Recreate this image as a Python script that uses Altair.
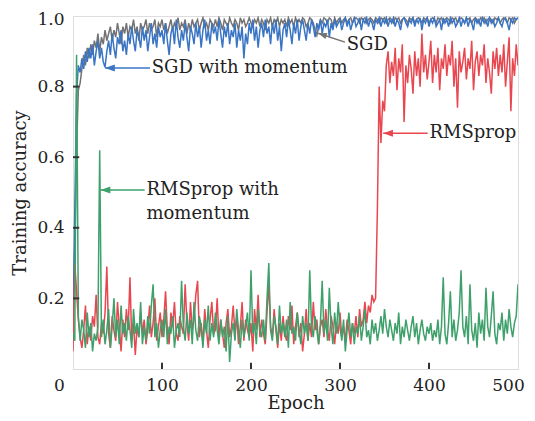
import altair as alt
import pandas as pd

epochs = list(range(0, 501, 2))

sgd = [0.12, 0.35, 0.62, 0.79, 0.81, 0.85, 0.89, 0.86, 0.91, 0.88,
       0.92, 0.89, 0.93, 0.91, 0.95, 0.90, 0.94, 0.92, 0.96, 0.93,
       0.95, 0.97, 0.93, 0.96, 0.94, 0.98, 0.95, 0.92, 0.97, 0.95,
       0.98, 0.94, 0.97, 0.96, 0.99, 0.95, 0.97, 0.93, 0.98, 0.96,
       0.97, 0.99, 0.95, 0.98, 0.96, 0.97, 0.99, 0.94, 0.98, 0.97,
       0.99, 0.96, 0.98, 0.95, 0.97, 0.99, 0.96, 0.98, 0.97, 0.995,
       0.96, 0.98, 0.97, 0.99, 0.95, 0.98, 0.96, 0.99, 0.97, 0.98,
       0.99, 0.96, 0.98, 0.995, 0.97, 0.98, 0.96, 0.99, 0.98, 0.97,
       0.99, 0.97, 0.995, 0.98, 0.96, 0.99, 0.98, 0.97, 0.995, 0.98,
       0.97, 0.99, 0.98, 0.96, 0.995, 0.98, 0.99, 0.97, 0.98, 0.995,
       0.98, 0.97, 0.99, 0.98, 0.995, 0.97, 0.99, 0.98, 0.96, 0.99,
       0.98, 0.995, 0.97, 0.99, 0.98, 0.995, 0.97, 0.99, 0.98, 0.99,
       0.97, 0.995, 0.98, 0.99, 0.97, 0.995, 0.98, 0.99, 0.98, 0.995,
       0.99, 0.97, 0.98, 0.995, 0.99, 0.98, 0.96, 0.945, 0.97, 0.99,
       0.98, 0.995, 0.99, 0.98, 0.995, 0.99, 0.97, 0.995, 0.98, 0.99,
       0.995, 0.98, 0.99, 0.995, 0.98, 0.99, 0.995, 0.98, 0.99, 0.995,
       0.99, 0.98, 0.995, 0.99, 0.995, 0.98, 0.99, 0.995, 0.99, 0.98,
       0.995, 0.99, 0.98, 0.995, 0.99, 0.995, 0.98, 0.99, 0.995, 0.99,
       0.98, 0.995, 0.99, 0.995, 0.98, 0.99, 0.995, 0.99, 0.98, 0.995,
       0.99, 0.995, 0.98, 0.99, 0.995, 0.99, 0.98, 0.995, 0.99, 0.995,
       0.98, 0.99, 0.995, 0.99, 0.98, 0.995, 0.99, 0.995, 0.98, 0.99,
       0.995, 0.99, 0.98, 0.995, 0.99, 0.995, 0.98, 0.99, 0.995, 0.99,
       0.98, 0.995, 0.99, 0.995, 0.98, 0.99, 0.995, 0.99, 0.98, 0.995,
       0.99, 0.995, 0.98, 0.99, 0.995, 0.99, 0.98, 0.995, 0.99, 0.995,
       0.98, 0.99, 0.995, 0.99, 0.98, 0.995, 0.99, 0.995, 0.98, 0.99,
       0.995]

sgd_momentum = [0.10, 0.45, 0.78, 0.86, 0.84, 0.88, 0.85, 0.90, 0.87, 0.91,
                0.88, 0.92, 0.86, 0.90, 0.93, 0.88, 0.91, 0.87, 0.855, 0.90,
                0.93, 0.89, 0.95, 0.91, 0.88, 0.94, 0.92, 0.96, 0.90, 0.93,
                0.89, 0.95, 0.92, 0.97, 0.93, 0.90, 0.96, 0.94, 0.91, 0.97,
                0.93, 0.96, 0.90, 0.94, 0.98, 0.92, 0.95, 0.91, 0.97, 0.94,
                0.96, 0.92, 0.98, 0.93, 0.89, 0.95, 0.97, 0.92, 0.99, 0.94,
                0.91, 0.96, 0.93, 0.98, 0.94, 0.90, 0.97, 0.95, 0.92, 0.98,
                0.94, 0.97, 0.91, 0.96, 0.99, 0.93, 0.96, 0.92, 0.98, 0.95,
                0.97, 0.93, 0.99, 0.95, 0.91, 0.97, 0.94, 0.98, 0.92, 0.96,
                0.94, 0.98, 0.91, 0.96, 0.93, 0.97, 0.88, 0.95, 0.92, 0.98,
                0.95, 0.99, 0.93, 0.97, 0.91, 0.96, 0.98, 0.94, 0.99, 0.95,
                0.97, 0.92, 0.98, 0.95, 0.99, 0.93, 0.97, 0.90, 0.96, 0.98,
                0.94, 0.99, 0.96, 0.92, 0.98, 0.95, 0.99, 0.93, 0.97, 0.99,
                0.96, 0.93, 0.98, 0.95, 0.99, 0.97, 0.94, 0.98, 0.96, 0.99,
                0.95, 0.98, 0.97, 0.99, 0.94, 0.98, 0.96, 0.99, 0.97, 0.98,
                0.99, 0.96, 0.98, 0.995, 0.97, 0.99, 0.96, 0.98, 0.995, 0.97,
                0.98, 0.995, 0.96, 0.99, 0.98, 0.995, 0.97, 0.99, 0.98, 0.96,
                0.99, 0.98, 0.995, 0.97, 0.99, 0.98, 0.995, 0.97, 0.99, 0.98,
                0.995, 0.97, 0.99, 0.98, 0.96, 0.99, 0.995, 0.98, 0.97, 0.99,
                0.98, 0.995, 0.97, 0.99, 0.98, 0.995, 0.96, 0.99, 0.98, 0.995,
                0.97, 0.99, 0.98, 0.995, 0.97, 0.98, 0.99, 0.96, 0.995, 0.98,
                0.99, 0.97, 0.995, 0.98, 0.99, 0.97, 0.98, 0.995, 0.97, 0.99,
                0.98, 0.995, 0.97, 0.99, 0.98, 0.96, 0.995, 0.98, 0.99, 0.97,
                0.995, 0.98, 0.99, 0.97, 0.995, 0.98, 0.99, 0.97, 0.98, 0.995,
                0.98, 0.97, 0.99, 0.995, 0.98, 0.96, 0.99, 0.98, 0.995, 0.99,
                0.995]

rmsprop = [0.05, 0.30, 0.22, 0.14, 0.09, 0.06, 0.11, 0.18, 0.07, 0.12,
           0.08, 0.15, 0.12, 0.21, 0.09, 0.07, 0.13, 0.10, 0.16, 0.29,
           0.10, 0.06, 0.15, 0.11, 0.08, 0.19, 0.12, 0.05, 0.14, 0.09,
           0.17, 0.11, 0.26, 0.08, 0.13, 0.04, 0.12, 0.09, 0.16, 0.10,
           0.14, 0.07, 0.11, 0.18, 0.09, 0.13, 0.20, 0.08, 0.12, 0.16,
           0.09, 0.14, 0.22, 0.11, 0.07, 0.16, 0.12, 0.19, 0.10, 0.08,
           0.15, 0.12, 0.10, 0.24, 0.13, 0.08, 0.19, 0.11, 0.14, 0.21,
           0.25, 0.09, 0.13, 0.07, 0.17, 0.11, 0.06, 0.14, 0.19, 0.10,
           0.11, 0.20, 0.08, 0.14, 0.10, 0.06, 0.13, 0.17, 0.09, 0.12,
           0.18, 0.10, 0.15, 0.07, 0.12, 0.19, 0.08, 0.14, 0.11, 0.09,
           0.13, 0.05, 0.17, 0.11, 0.21, 0.09, 0.14, 0.10, 0.07, 0.16,
           0.24, 0.12, 0.09, 0.17, 0.11, 0.06, 0.13, 0.08, 0.15, 0.10,
           0.08, 0.15, 0.11, 0.18, 0.07, 0.12, 0.16, 0.09, 0.13, 0.05,
           0.10, 0.17, 0.08, 0.13, 0.09, 0.19, 0.11, 0.14, 0.07, 0.12,
           0.14, 0.09, 0.17, 0.11, 0.08, 0.15, 0.12, 0.07, 0.13, 0.10,
           0.16, 0.09, 0.12, 0.08, 0.14, 0.11, 0.07, 0.13, 0.10, 0.15,
           0.09, 0.17, 0.12, 0.14, 0.19, 0.13, 0.18, 0.16, 0.21, 0.19,
           0.20, 0.45, 0.80, 0.64, 0.76, 0.73, 0.86, 0.90, 0.81, 0.87,
           0.83, 0.91, 0.79, 0.88, 0.84, 0.92, 0.70, 0.86, 0.81, 0.89,
           0.85, 0.78, 0.90, 0.83, 0.88, 0.80, 0.95, 0.84, 0.89, 0.82,
           0.87, 0.93, 0.81, 0.89, 0.84, 0.91, 0.79, 0.88, 0.85, 0.92,
           0.83, 0.89, 0.86, 0.93, 0.80, 0.88, 0.74, 0.90, 0.84, 0.87,
           0.91, 0.82, 0.88, 0.85, 0.93, 0.79, 0.87, 0.90, 0.83, 0.89,
           0.86, 0.92, 0.81, 0.88, 0.84, 0.78, 0.90, 0.85, 0.91, 0.83,
           0.89, 0.84, 0.92, 0.80, 0.87, 0.94, 0.73, 0.88, 0.83, 0.92,
           0.86]

rmsprop_momentum = [0.10, 0.08, 0.89, 0.15, 0.08, 0.14, 0.11, 0.06, 0.16, 0.09,
                    0.13, 0.05, 0.10, 0.08, 0.12, 0.62, 0.09, 0.14, 0.07, 0.11,
                    0.17, 0.06, 0.12, 0.20, 0.09, 0.14, 0.07, 0.18, 0.10, 0.13,
                    0.08, 0.15, 0.11, 0.06, 0.17, 0.10, 0.13, 0.09, 0.19, 0.07,
                    0.12, 0.08, 0.15, 0.10, 0.18, 0.24, 0.09, 0.13, 0.06, 0.11,
                    0.14, 0.09, 0.17, 0.07, 0.12, 0.10, 0.15, 0.06, 0.11, 0.13,
                    0.09, 0.25, 0.12, 0.08, 0.16, 0.10, 0.14, 0.07, 0.19, 0.11,
                    0.08, 0.15, 0.12, 0.06, 0.14, 0.10, 0.18, 0.08, 0.13, 0.09,
                    0.16, 0.11, 0.07, 0.14, 0.09, 0.12, 0.05, 0.15, 0.02, 0.10,
                    0.13, 0.08, 0.17, 0.11, 0.06, 0.14, 0.09, 0.12, 0.16, 0.08,
                    0.28, 0.10, 0.13, 0.07, 0.17, 0.11, 0.09, 0.14, 0.08, 0.20,
                    0.30, 0.11, 0.08, 0.15, 0.12, 0.07, 0.18, 0.10, 0.13, 0.09,
                    0.14, 0.06, 0.19, 0.10, 0.12, 0.08, 0.16, 0.11, 0.07, 0.15,
                    0.10, 0.13, 0.08, 0.28, 0.12, 0.09, 0.15, 0.11, 0.07, 0.13,
                    0.25, 0.10, 0.14, 0.08, 0.23, 0.12, 0.07, 0.16, 0.10, 0.19,
                    0.12, 0.08, 0.14, 0.05, 0.11, 0.16, 0.09, 0.13, 0.07, 0.12,
                    0.10, 0.15, 0.08, 0.12, 0.17, 0.09, 0.11, 0.07, 0.14, 0.10,
                    0.13, 0.08, 0.11, 0.15, 0.10, 0.17, 0.12, 0.09, 0.14, 0.11,
                    0.08, 0.13, 0.10, 0.16, 0.07, 0.12, 0.09, 0.14, 0.11, 0.08,
                    0.12, 0.15, 0.09, 0.13, 0.07, 0.11, 0.14, 0.10, 0.08, 0.12,
                    0.10, 0.13, 0.08, 0.11, 0.09, 0.14, 0.07, 0.12, 0.26, 0.10,
                    0.07, 0.13, 0.22, 0.09, 0.14, 0.08, 0.11, 0.16, 0.28, 0.12,
                    0.09, 0.15, 0.07, 0.24, 0.11, 0.08, 0.13, 0.06, 0.16, 0.10,
                    0.14, 0.08, 0.23, 0.12, 0.09, 0.15, 0.22, 0.10, 0.07, 0.13,
                    0.11, 0.16, 0.08, 0.14, 0.10, 0.17, 0.12, 0.09, 0.13, 0.15,
                    0.24]

series_names = ["SGD", "SGD with momentum", "RMSprop", "RMSprop with momentum"]
series_values = [sgd, sgd_momentum, rmsprop, rmsprop_momentum]
series_colors = ["#737373", "#3a74c4", "#e8474f", "#3ea06a"]

x_ticks = [0, 100, 200, 300, 400, 500]
y_ticks = [0.2, 0.4, 0.6, 0.8, 1.0]

# annotations: arrow tip, arrow tail, text position (data units)
ann_text = ["SGD with momentum", "SGD", "RMSprop", "RMSprop with"]
ann_tip_x = [36, 275.5, 348.5, 31]
ann_tip_y = [0.853, 0.951, 0.668, 0.507]
ann_tail_x = [86.5, 305.5, 398.5, 80.5]
ann_tail_y = [0.853, 0.926, 0.668, 0.507]
ann_text_x = [88.5, 307.5, 400.5, 82.5]
ann_text_y = [0.853, 0.917, 0.668, 0.507]
ann_angle = [0, 18, 0, 0]
ann_color = ["#3a74c4", "#737373", "#e8474f", "#3ea06a"]
extra_text = "momentum"
extra_text_x = 82.5
extra_text_y = 0.44

FONT = "DejaVu Serif"
TXT = "#222222"

xscale = alt.Scale(domain=[0, 500], nice=False, zero=False)
yscale = alt.Scale(domain=[0, 1], nice=False, zero=False)

xaxis = alt.Axis(values=x_ticks, ticks=False, domain=False, grid=False, labelFlush=False,
                 labelOffset={"condition": [{"test": "datum.value == 0", "value": -14},
                                            {"test": "datum.value == 500", "value": -10}],
                              "value": 0},
                 labelFont=FONT, labelFontSize=17, labelColor=TXT, labelPadding=8,
                 title="Epoch", titleFont=FONT, titleFontSize=18,
                 titleFontWeight="normal", titleColor=TXT, titlePadding=1)
yaxis = alt.Axis(values=y_ticks, format=".1f", ticks=False, domain=False, grid=False,
                 labelFlush=False,
                 labelOffset={"condition": {"test": "datum.value == 1", "value": 3},
                              "value": 0},
                 labelFont=FONT, labelFontSize=17, labelColor=TXT, labelPadding=9,
                 title="Training accuracy", titleFont=FONT, titleFontSize=18,
                 titleFontWeight="normal", titleColor=TXT, titlePadding=7)

layers = []
for i, (name, vals, col) in enumerate(zip(series_names, series_values, series_colors)):
    df = pd.DataFrame({"epoch": epochs, "acc": vals})
    if i == 0:
        enc_x = alt.X("epoch:Q", scale=xscale, axis=xaxis)
        enc_y = alt.Y("acc:Q", scale=yscale, axis=yaxis)
    else:
        enc_x = alt.X("epoch:Q", scale=xscale)
        enc_y = alt.Y("acc:Q", scale=yscale)
    layers.append(alt.Chart(df).mark_line(color=col, strokeWidth=1.5, clip=True)
                  .encode(x=enc_x, y=enc_y))

# inward ticks
xt = pd.DataFrame({"t": x_ticks[1:-1]})
layers.append(alt.Chart(xt).mark_rule(color="#333333", strokeWidth=2)
              .encode(x=alt.X("t:Q", scale=xscale), y=alt.datum(0), y2=alt.datum(0.018)))
yt = pd.DataFrame({"t": y_ticks[:-1]})
layers.append(alt.Chart(yt).mark_rule(color="#333333", strokeWidth=2)
              .encode(y=alt.Y("t:Q", scale=yscale), x=alt.datum(0), x2=alt.datum(7)))

arrow_path = "M0,0 L1,-0.36 L1,0.36 Z"
for i in range(len(ann_text)):
    adf = pd.DataFrame({"x": [ann_tip_x[i]], "y": [ann_tip_y[i]],
                        "x2": [ann_tail_x[i]], "y2": [ann_tail_y[i]],
                        "tx": [ann_text_x[i]], "ty": [ann_text_y[i]],
                        "label": [ann_text[i]]})
    base = alt.Chart(adf)
    layers.append(base.mark_rule(color=ann_color[i], strokeWidth=1.5)
                  .encode(x=alt.X("x:Q", scale=xscale), y=alt.Y("y:Q", scale=yscale),
                          x2="x2:Q", y2="y2:Q"))
    layers.append(base.mark_point(shape=arrow_path, filled=True, opacity=1,
                                  size=380 if i != 1 else 300, angle=ann_angle[i],
                                  color=ann_color[i], strokeWidth=0)
                  .encode(x=alt.X("x:Q", scale=xscale), y=alt.Y("y:Q", scale=yscale)))
    layers.append(base.mark_text(align="left", baseline="middle", font=FONT,
                                 fontSize=18, color=TXT)
                  .encode(x=alt.X("tx:Q", scale=xscale), y=alt.Y("ty:Q", scale=yscale),
                          text="label:N"))

edf = pd.DataFrame({"tx": [extra_text_x], "ty": [extra_text_y], "label": [extra_text]})
layers.append(alt.Chart(edf).mark_text(align="left", baseline="middle", font=FONT,
                                       fontSize=18, color=TXT)
              .encode(x=alt.X("tx:Q", scale=xscale), y=alt.Y("ty:Q", scale=yscale),
                      text="label:N"))

chart = (alt.layer(*layers)
         .properties(width=445, height=353,
                     autosize=alt.AutoSizeParams(type="none"),
                     padding={"left": 65, "top": 8, "right": 9, "bottom": 44})
         .configure_view(stroke="#2b2b2b", strokeWidth=2.5)
         .configure(background="white"))

chart.save("out.html", embed_options={"renderer": "svg", "actions": False})
